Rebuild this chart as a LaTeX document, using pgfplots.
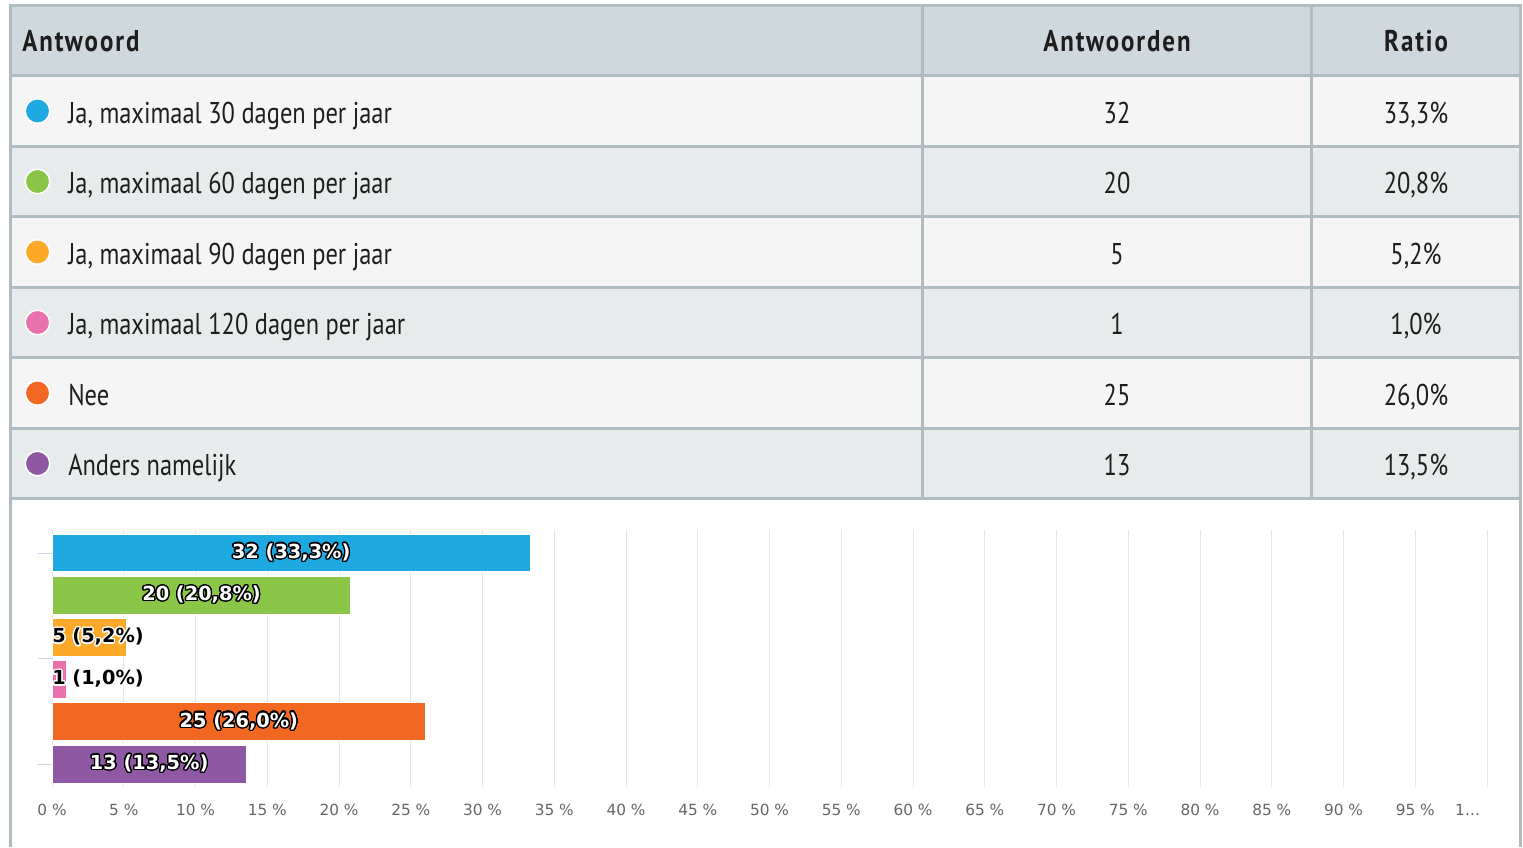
\documentclass[border=0pt]{standalone}
\usepackage{fontspec}
\setmainfont{PT Sans}[FakeStretch=0.815]
\newfontfamily\hdrfont{PT Sans}[FakeStretch=0.83,LetterSpace=6.5]
\newfontfamily\dejavu{DejaVu Sans}
\usepackage{pgfplots}
\pgfplotsset{compat=1.18}
\usepackage{contour}
\contourlength{1pt}
\contournumber{24}
\definecolor{hdrbg}{HTML}{CFD8DC}
\definecolor{brd}{HTML}{AFBDC3}
\definecolor{rowA}{HTML}{F5F5F5}
\definecolor{rowB}{HTML}{E8EBEC}
\definecolor{cBlue}{HTML}{1FA9E1}
\definecolor{cGreen}{HTML}{8BC547}
\definecolor{cYellow}{HTML}{FCA929}
\definecolor{cPink}{HTML}{E972AE}
\definecolor{cOrange}{HTML}{F26722}
\definecolor{cPurple}{HTML}{8E58A3}
\definecolor{gridc}{HTML}{E6E6E6}
\definecolor{tickc}{HTML}{CCD6EB}
\definecolor{labc}{HTML}{666666}
\definecolor{txt}{HTML}{1E1E1E}
\newcommand\rowf{\fontsize{22.5pt}{27pt}\selectfont}
\newcommand\hdrf{\hdrfont\bfseries\fontsize{22.5pt}{27pt}\selectfont}
\newcommand\tickf{\dejavu\fontsize{11.5pt}{14pt}\selectfont}
\newcommand\lblf{\dejavu\bfseries\fontsize{14.5pt}{17pt}\selectfont}
\newcommand\lastlab{\makebox[0pt]{1…\hspace*{29.2pt}}}
\begin{document}
\begin{tikzpicture}
% ---------- table (pixel coordinates) ----------
\begin{axis}[at={(0pt,0pt)}, anchor=south west, width=1142.25pt, height=635.25pt,
  scale only axis, xmin=0, xmax=1523, ymin=0, ymax=847, y dir=reverse,
  hide axis, clip=false]
\fill[white] (axis cs:10,5) rectangle (axis cs:1520.5,847);
\fill[hdrbg] (axis cs:10,5) rectangle (axis cs:1520.5,75.5);
\fill[rowA] (axis cs:10,75.5) rectangle (axis cs:1520.5,146);
\fill[rowB] (axis cs:10,146) rectangle (axis cs:1520.5,216.5);
\fill[rowA] (axis cs:10,216.5) rectangle (axis cs:1520.5,287);
\fill[rowB] (axis cs:10,287) rectangle (axis cs:1520.5,357.5);
\fill[rowA] (axis cs:10,357.5) rectangle (axis cs:1520.5,428);
\fill[rowB] (axis cs:10,428) rectangle (axis cs:1520.5,498.5);
\begin{scope}[brd, line width=2.25pt]
\draw (axis cs:9,5) -- (axis cs:1522,5);
\draw (axis cs:10,75.5) -- (axis cs:1520.5,75.5);
\draw (axis cs:10,146) -- (axis cs:1520.5,146);
\draw (axis cs:10,216.5) -- (axis cs:1520.5,216.5);
\draw (axis cs:10,287) -- (axis cs:1520.5,287);
\draw (axis cs:10,357.5) -- (axis cs:1520.5,357.5);
\draw (axis cs:10,428) -- (axis cs:1520.5,428);
\draw (axis cs:10,498.5) -- (axis cs:1520.5,498.5);
\draw (axis cs:10.5,5) -- (axis cs:10.5,847);
\draw (axis cs:1520.5,5) -- (axis cs:1520.5,847);
\draw (axis cs:922.5,5) -- (axis cs:922.5,498.5);
\draw (axis cs:1311.5,5) -- (axis cs:1311.5,498.5);
\end{scope}
% header
\node[anchor=base west, inner sep=0pt, text=txt, font=\hdrf] at (axis cs:22,51.5) {Antwoord};
\node[anchor=base, inner sep=0pt, text=txt, font=\hdrf] at (axis cs:1117,51.5) {Antwoorden};
\node[anchor=base, inner sep=0pt, text=txt, font=\hdrf] at (axis cs:1416,51.5) {Ratio};
% legend dots
\addplot[only marks, mark=*, mark size=9.2pt, mark options={fill=cBlue, draw=white, line width=1.1pt}] coordinates {(37.5,111)};
\addplot[only marks, mark=*, mark size=9.2pt, mark options={fill=cGreen, draw=white, line width=1.1pt}] coordinates {(37.5,181.5)};
\addplot[only marks, mark=*, mark size=9.2pt, mark options={fill=cYellow, draw=white, line width=1.1pt}] coordinates {(37.5,252)};
\addplot[only marks, mark=*, mark size=9.2pt, mark options={fill=cPink, draw=white, line width=1.1pt}] coordinates {(37.5,322.5)};
\addplot[only marks, mark=*, mark size=9.2pt, mark options={fill=cOrange, draw=white, line width=1.1pt}] coordinates {(37.5,393)};
\addplot[only marks, mark=*, mark size=9.2pt, mark options={fill=cPurple, draw=white, line width=1.1pt}] coordinates {(37.5,463.5)};
% rows
\begin{scope}[every node/.style={inner sep=0pt, text=txt, font=\rowf}]
\node[anchor=base west] at (axis cs:68,123) {Ja, maximaal 30 dagen per jaar};
\node[anchor=base west] at (axis cs:68,193.5) {Ja, maximaal 60 dagen per jaar};
\node[anchor=base west] at (axis cs:68,264) {Ja, maximaal 90 dagen per jaar};
\node[anchor=base west] at (axis cs:68,334.5) {Ja, maximaal 120 dagen per jaar};
\node[anchor=base west] at (axis cs:68,405) {Nee};
\node[anchor=base west] at (axis cs:68,475.5) {Anders namelijk};
\node[anchor=base] at (axis cs:1117,123) {32};
\node[anchor=base] at (axis cs:1117,193.5) {20};
\node[anchor=base] at (axis cs:1117,264) {5};
\node[anchor=base] at (axis cs:1117,334.5) {1};
\node[anchor=base] at (axis cs:1117,405) {25};
\node[anchor=base] at (axis cs:1117,475.5) {13};
\node[anchor=base] at (axis cs:1416,123) {33,3\%};
\node[anchor=base] at (axis cs:1416,193.5) {20,8\%};
\node[anchor=base] at (axis cs:1416,264) {5,2\%};
\node[anchor=base] at (axis cs:1416,334.5) {1,0\%};
\node[anchor=base] at (axis cs:1416,405) {26,0\%};
\node[anchor=base] at (axis cs:1416,475.5) {13,5\%};
\end{scope}
\end{axis}
% ---------- bar chart ----------
\begin{axis}[at={(39pt,45pt)}, anchor=south west, width=1076.25pt, height=192.75pt,
  scale only axis, xmin=0, xmax=100, ymin=0.455, ymax=6.545, y dir=reverse,
  xbar, bar width=0.9, bar shift=0pt, clip=false,
  xtick={0,5,10,15,20,25,30,35,40,45,50,55,60,65,70,75,80,85,90,95,100},
  xticklabels={0 \%,5 \%,10 \%,15 \%,20 \%,25 \%,30 \%,35 \%,40 \%,45 \%,50 \%,55 \%,60 \%,65 \%,70 \%,75 \%,80 \%,85 \%,90 \%,95 \%,\lastlab},
  xticklabel style={font=\tickf, text=labc, yshift=1pt},
  xmajorgrids, grid style={gridc, line width=0.75pt},
  axis line style={draw=none},
  ytick={1,3.5,6}, yticklabels={},
  xtick style={draw=none}, ytick style={draw=tickc, line width=0.75pt},
  major tick length=10.5pt, tick align=outside, ytick pos=left, xtick pos=bottom]
\addplot[fill=cBlue, draw=white, line width=0.75pt] coordinates {(33.33,1)};
\addplot[fill=cGreen, draw=white, line width=0.75pt] coordinates {(20.83,2)};
\addplot[fill=cYellow, draw=white, line width=0.75pt] coordinates {(5.21,3)};
\addplot[fill=cPink, draw=white, line width=0.75pt] coordinates {(1.04,4)};
\addplot[fill=cOrange, draw=white, line width=0.75pt] coordinates {(26.04,5)};
\addplot[fill=cPurple, draw=white, line width=0.75pt] coordinates {(13.54,6)};
\node[font=\lblf] at (axis cs:16.67,1) {\contour{black}{\textcolor{white}{32 (33,3\%)}}};
\node[font=\lblf] at (axis cs:10.42,2) {\contour{black}{\textcolor{white}{20 (20,8\%)}}};
\node[font=\lblf, anchor=west, inner sep=0pt] at (axis cs:0,3) {\contour{white}{\textcolor{black}{5 (5,2\%)}}};
\node[font=\lblf, anchor=west, inner sep=0pt] at (axis cs:0,4) {\contour{white}{\textcolor{black}{1 (1,0\%)}}};
\node[font=\lblf] at (axis cs:13.02,5) {\contour{black}{\textcolor{white}{25 (26,0\%)}}};
\node[font=\lblf] at (axis cs:6.77,6) {\contour{black}{\textcolor{white}{13 (13,5\%)}}};
\end{axis}
\pgfresetboundingbox
\path (0pt,0pt) rectangle (1142.25pt,635.25pt);
\end{tikzpicture}
\end{document}
